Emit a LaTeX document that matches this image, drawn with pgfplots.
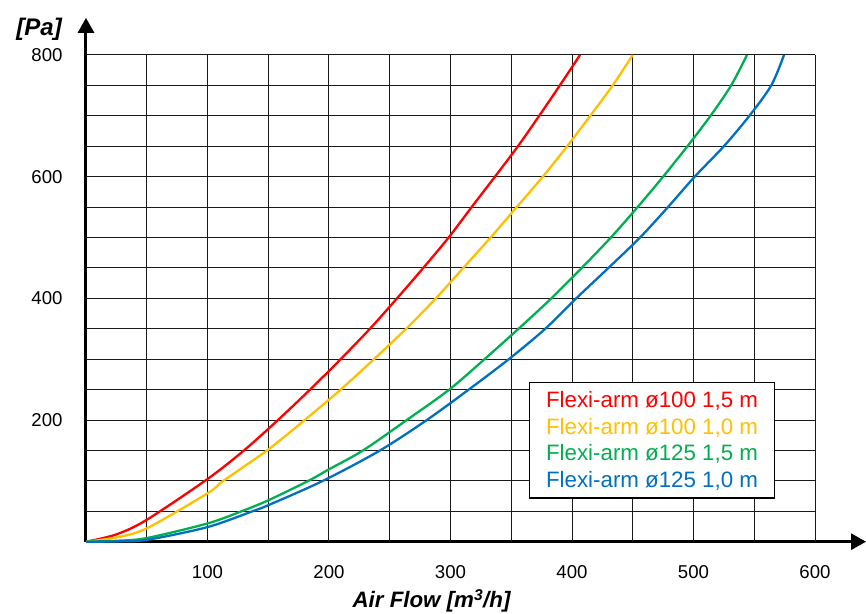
\documentclass[border=0pt]{standalone}
\usepackage{fontspec}
\setmainfont{Liberation Sans}
\usepackage{pgfplots}
\pgfplotsset{compat=1.18}
\usetikzlibrary{arrows.meta}
\definecolor{cRed}{RGB}{255,0,0}
\definecolor{cYel}{RGB}{255,192,0}
\definecolor{cGrn}{RGB}{0,176,80}
\definecolor{cBlu}{RGB}{0,112,192}
\tikzset{gridline/.style={black!90, line width=1bp}}
\begin{document}
\begin{tikzpicture}
\useasboundingbox (-86bp,-72.3bp) rectangle (780bp,541.7bp);
\begin{axis}[
  x=1.215bp, y=0.6084bp,
  xmin=0, xmax=642, ymin=0, ymax=861,
  clip=false,
  axis lines*=left,
  axis line style={line width=3bp, -{Triangle[width=16bp,length=15bp]}},
  xtick={100,200,...,600},
  ytick={200,400,600,800},
  major tick length=0pt,
  tick style={draw=none},
  tick label style={font=\fontsize{18.6bp}{20bp}\selectfont},
  /pgf/number format/assume math mode=true,
  xticklabel style={anchor=north, yshift=-20bp},
  yticklabel style={anchor=east, xshift=-20bp},
  legend cell align=left,
  legend image code/.code={},
  legend style={at={(rel axis cs:0.5679,0.3055)}, anchor=north west,
    draw=black, line width=1.3bp, fill=white,
    font=\fontsize{22.3bp}{26bp}\selectfont,
    inner xsep=14.5bp, inner ysep=7bp, row sep=5bp},
]
\pgfplotsinvokeforeach{50,100,...,600}{\draw[gridline] (axis cs:#1,0) -- (axis cs:#1,800);}
\pgfplotsinvokeforeach{50,100,...,800}{\draw[gridline] (axis cs:0,#1) -- (axis cs:600,#1);}

% Flexi-arm 100, 1.5 m
\addplot[cRed, line width=2.3bp, smooth] coordinates {
(0,0) (25,12) (50,36) (100,103) (130,150) (158,200) (184.4,250) (209.6,300)
(233.7,350) (256,400) (277.6,450) (298.5,500) (317.4,550) (336.6,600)
(355.5,650) (373,700) (390,750) (406.6,800)};
\addlegendentry{\textcolor{cRed}{Flexi-arm ø100 1,5 m}}

% Flexi-arm 100, 1.0 m
\addplot[cYel, line width=2.3bp, smooth] coordinates {
(0,0) (25,7) (50,22) (100,79.5) (113,100) (149,150) (180,200) (209.6,250)
(237,300) (263.5,350) (288,400) (310.5,450) (333,500) (354.5,550) (376,600)
(396,650) (415,700) (433.5,750) (450,800)};
\addlegendentry{\textcolor{cYel}{Flexi-arm ø100 1,0 m}}

% Flexi-arm 125, 1.5 m
\addplot[cGrn, line width=2.3bp, smooth] coordinates {
(0,0) (25,1.5) (50,6) (100,30) (128,50) (150,68) (183,100) (200,119)
(228,150) (264,200) (299,250) (328,300) (356,350) (383,400) (408,450)
(432,500) (454,550) (475,600) (495,650) (514,700) (531,750) (544,800)};
\addlegendentry{\textcolor{cGrn}{Flexi-arm ø125 1,5 m}}

% Flexi-arm 125, 1.0 m
\addplot[cBlu, line width=2.3bp, smooth] coordinates {
(0,0) (25,0.5) (50,3) (100,24) (137,50) (150,60) (195,100) (242,150)
(280.5,200) (315,250) (348,300) (378,350) (403.5,400) (430,450) (456,500)
(479,550) (501,600) (525,650) (546,700) (564,750) (574.5,800)};
\addlegendentry{\textcolor{cBlu}{Flexi-arm ø125 1,0 m}}

\node[anchor=east, inner sep=0pt, font=\fontsize{24bp}{28bp}\selectfont\bfseries\itshape]
  at (axis cs:-19.75,842.7) {[Pa]};
\node[anchor=center, inner sep=0pt, font=\fontsize{22.3bp}{26bp}\selectfont\bfseries\itshape]
  at (axis cs:284.4,-97.5) {Air Flow [m\textsuperscript{3}/h]};
\end{axis}
\end{tikzpicture}
\end{document}
